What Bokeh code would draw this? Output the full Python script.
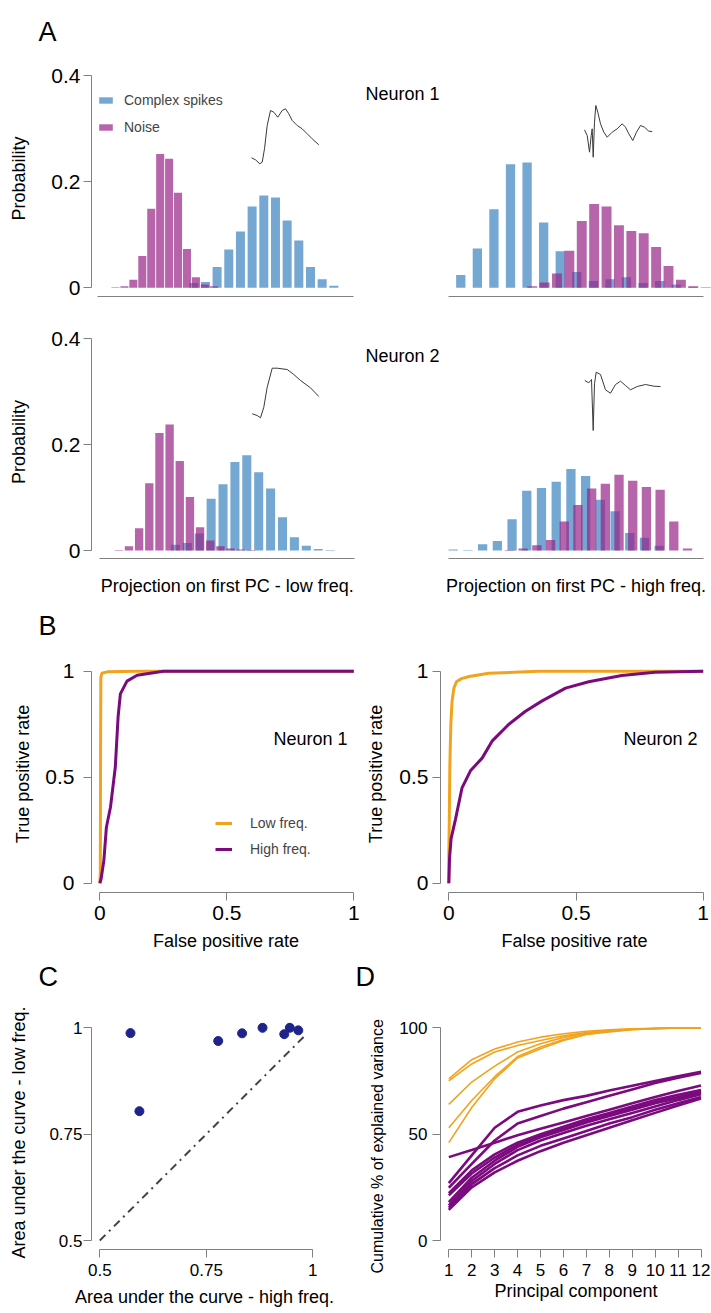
import math
from bokeh.plotting import figure
from bokeh.models import (Range1d, FixedTicker, CustomJSTickFormatter, Label,
                          Legend, LegendItem, Title)
from bokeh.layouts import column, row
from bokeh.embed import file_html
from bokeh.resources import INLINE

# ======================= DATA =======================
# Panel A: histograms (probability per bin). Bins: (first bin centre, bin width)
# in projection units (the drawn axis spans 0..1).
n1_low_cs_bins = (0.376, 0.0456)
n1_low_cs = [0.009, 0.011, 0.039, 0.072, 0.106, 0.153, 0.174, 0.170, 0.127, 0.089, 0.039, 0.016, 0.004]
n1_low_noise_bins = (0.0703, 0.0349)
n1_low_noise = [0.001, 0.003, 0.015, 0.060, 0.149, 0.252, 0.243, 0.179, 0.073, 0.020, 0.006, 0.003]

n1_high_cs_bins = (0.047, 0.065)
n1_high_cs = [0.024, 0.074, 0.148, 0.233, 0.236, 0.123, 0.069, 0.030, 0.013, 0.016, 0.020, 0.009, 0.013, 0.006, 0.002]
n1_high_noise_bins = (0.327, 0.0486)
n1_high_noise = [0.003, 0.010, 0.027, 0.070, 0.126, 0.158, 0.153, 0.118, 0.107, 0.103, 0.077, 0.041, 0.015, 0.003, 0.001]

n2_low_cs_bins = (0.297, 0.0467)
n2_low_cs = [0.011, 0.014, 0.032, 0.098, 0.125, 0.167, 0.180, 0.148, 0.117, 0.063, 0.025, 0.009, 0.003, 0.001]
n2_low_noise_bins = (0.0746, 0.0399)
n2_low_noise = [0.001, 0.008, 0.042, 0.127, 0.222, 0.238, 0.169, 0.101, 0.044, 0.019, 0.008, 0.004, 0.002, 0.001]

n2_high_cs_bins = (0.0173, 0.0577)
n2_high_cs = [0.002, 0.001, 0.012, 0.018, 0.059, 0.113, 0.118, 0.130, 0.154, 0.141, 0.096, 0.074, 0.033, 0.024, 0.009]
n2_high_noise_bins = (0.238, 0.0537)
n2_high_noise = [0.001, 0.004, 0.010, 0.020, 0.055, 0.086, 0.117, 0.126, 0.143, 0.132, 0.120, 0.115, 0.055, 0.004]

# Mean complex-spike waveforms (time in samples, amplitude in arbitrary units)
wf_n1_low_t = [0, 4, 8.3, 10.7, 13, 15.7, 19, 22.3, 26.3, 30.7, 34, 37.3, 40.7, 45.7, 50.7, 55.7, 60.7, 67.3]
wf_n1_low_v = [6, 4, 0, 1.6, 15, 38.3, 53.3, 51.6, 46.6, 53.3, 55, 50, 43.3, 38.3, 35, 30, 25, 19]
wf_n1_high_t = [0, 2.7, 5, 6.7, 7.7, 8.7, 10, 11.3, 13.3, 16, 19.3, 22.7, 27.7, 32.7, 37.7, 41, 44.3, 48.3, 52, 56, 60, 64.3, 67.7]
wf_n1_high_v = [27.4, 21.7, 5, 21.7, 28.4, 0, 35, 51.7, 45, 33.4, 25, 20, 25, 28.4, 33.4, 30, 23.4, 16.7, 25, 31.7, 30, 26, 25.7]
wf_n2_low_t = [0, 5, 8.3, 11.6, 15, 20, 25, 35, 41.6, 48.3, 58.3, 66.6]
wf_n2_low_v = [4, 2.3, 0, 10.6, 30.6, 49.6, 49.6, 48.3, 43.3, 37.3, 30, 21.3]
wf_n2_high_t = [0, 4, 5.7, 6.7, 8.4, 9.7, 11.4, 15.7, 20.7, 25.7, 30.7, 35.7, 40.7, 45.7, 52.4, 60.7, 69, 75.7]
wf_n2_high_v = [50, 47.7, 50, 51, 0, 46.7, 58.3, 56, 40.7, 37.3, 46, 49.3, 45, 40.7, 44, 46, 44.3, 44]

# Panel B: ROC curves
roc_n1_low_fpr = [0, 0.002, 0.003, 0.004, 0.008, 0.03, 0.15, 1.0]
roc_n1_low_tpr = [0, 0.05, 0.60, 0.97, 0.99, 0.997, 1.0, 1.0]
roc_n1_high_fpr = [0, 0.005, 0.016, 0.026, 0.042, 0.061, 0.072, 0.081, 0.107, 0.147, 0.25, 1.0]
roc_n1_high_tpr = [0, 0.02, 0.107, 0.264, 0.358, 0.547, 0.783, 0.893, 0.953, 0.981, 1.0, 1.0]
roc_n2_low_fpr = [0, 0.0, 0.002, 0.004, 0.008, 0.013, 0.02, 0.03, 0.05, 0.08, 0.157, 0.354, 0.7, 1.0]
roc_n2_low_tpr = [0, 0.13, 0.30, 0.55, 0.75, 0.86, 0.92, 0.95, 0.965, 0.975, 0.99, 1.0, 1.0, 1.0]
roc_n2_high_fpr = [0, 0.003, 0.009, 0.026, 0.052, 0.085, 0.131, 0.17, 0.236, 0.30, 0.367, 0.459, 0.55, 0.68, 0.81, 1.0]
roc_n2_high_tpr = [0, 0.12, 0.21, 0.30, 0.45, 0.53, 0.59, 0.67, 0.75, 0.81, 0.86, 0.92, 0.95, 0.98, 0.995, 1.0]

# Panel C: area under the ROC curve per neuron
auc_high = [0.572, 0.593, 0.778, 0.834, 0.882, 0.933, 0.946, 0.966]
auc_low = [0.9875, 0.804, 0.969, 0.987, 1.0, 0.985, 1.0, 0.994]
identity = [0.5, 0.985]

# Panel D: cumulative % of explained variance
pcs = list(range(1, 13))
cumvar_low = [
    [76, 85, 90, 93.3, 95.6, 97.2, 98.4, 99.1, 99.5, 99.8, 99.9, 100],
    [75, 83, 88.6, 91.7, 94, 96.3, 97.8, 98.8, 99.4, 99.7, 99.9, 100],
    [64, 74.5, 82, 88.6, 92.5, 95.5, 97.5, 98.6, 99.3, 99.7, 99.9, 100],
    [53, 65.8, 77, 86.5, 91, 94.5, 97, 98.3, 99.2, 99.6, 99.9, 100],
    [46, 62.5, 76, 85.8, 90.2, 94, 96.9, 98, 99.1, 99.6, 99.9, 100],
]
cumvar_high = [
    [27, 40, 53, 60.5, 63.5, 66, 68, 70.5, 72.8, 75, 77.2, 79.3],
    [24.8, 36, 47, 55, 58.5, 62, 65, 68, 71, 74, 76.5, 78.8],
    [39.2, 42.5, 46, 49.5, 52.5, 55.5, 58.5, 61.5, 64.5, 67.5, 70.3, 72.9],
    [22.3, 33, 40.5, 46, 50, 53.5, 57, 60, 63, 66, 68.5, 70.8],
    [21.2, 31.5, 39, 45, 49, 52.5, 56, 59, 62, 65, 67.5, 70],
    [18, 29.5, 37.5, 44, 48.5, 52, 55.5, 58.5, 61.5, 64.5, 67, 69.5],
    [16.5, 28, 36, 42.5, 47, 50.5, 54, 57, 60, 63, 66, 68.8],
    [15.4, 26.5, 34, 40, 44.5, 48, 51.5, 55, 58, 61.5, 64.5, 67.5],
    [14.4, 25, 32, 37.5, 42, 46, 49.5, 53, 56.5, 60, 63.5, 66.8],
]

# ======================= STYLE =======================
FONT = "Liberation Sans"
GRAY = "#808080"
BLUE = "#74a7d2"
PINK = "#982387"
PINK_ALPHA = 0.7
ORANGE = "#f2a31c"
PURPLE = "#7a0a7e"
NAVY = "#1f248c"
PAGE_W = 711


def lin(pa, a, pb, b):
    return lambda px: a + (px - pa) * (b - a) / (pb - pa)


def make_fig(box, frame, mx, my, yaxis=True):
    x0, y0, x1, y1 = box
    l, t, r, b = frame
    p = figure(width=int(x1 - x0), height=int(y1 - y0), title=None,
               x_range=Range1d(mx(l), mx(r)), y_range=Range1d(my(b), my(t)),
               min_border_left=int(l - x0), min_border_right=int(x1 - r),
               min_border_top=int(t - y0), min_border_bottom=int(y1 - b),
               output_backend="svg", toolbar_location=None,
               y_axis_location="left" if yaxis else None)
    p.outline_line_color = None
    p.xgrid.visible = False
    p.ygrid.visible = False
    p.background_fill_color = "white"
    p.border_fill_color = "white"
    return p


def make_strip(x0, x1, y0, y1):
    # text-only strip; x data = page x, y data = distance above the strip's bottom
    p = figure(width=int(x1 - x0), height=int(y1 - y0), title=None,
               x_range=Range1d(x0, x1), y_range=Range1d(0, y1 - y0),
               min_border=0, output_backend="svg", toolbar_location=None,
               x_axis_location=None, y_axis_location=None)
    p.outline_line_color = None
    p.xgrid.visible = False
    p.ygrid.visible = False
    return p, (lambda py: y1 - py)


def style_axis(ax, ticks=(), font_size="21px", tick_out=8, standoff=4, bounds=None,
               label=None, label_standoff=10, label_size="18px"):
    ax.ticker = FixedTicker(ticks=list(ticks))
    ax.formatter = CustomJSTickFormatter(code="return tick.toString();")
    ax.axis_line_color = GRAY
    ax.axis_line_width = 1
    ax.major_tick_line_color = GRAY
    ax.major_tick_out = tick_out if ticks else 0
    ax.major_tick_in = 0
    ax.minor_tick_line_color = None
    ax.major_label_standoff = standoff if ticks else 0
    ax.major_label_text_font = FONT
    ax.major_label_text_font_size = font_size
    ax.major_label_text_color = "black"
    if bounds is not None:
        ax.bounds = bounds
    if label:
        ax.axis_label = label
        ax.axis_label_text_font = FONT
        ax.axis_label_text_font_size = label_size
        ax.axis_label_text_font_style = "normal"
        ax.axis_label_text_color = "black"
        ax.axis_label_standoff = label_standoff


def draw_hist(p, bins, probs, frac, color, alpha):
    start, step = bins
    xs = [start + i * step for i in range(len(probs))]
    return p.vbar(x=xs, top=probs, bottom=0, width=step * frac,
                  fill_color=color, fill_alpha=alpha, line_color=None)


def draw_wave(p, mx, my, origin, t, v):
    x0, y0 = origin
    p.line([mx(x0 + ti) for ti in t], [my(y0 - vi) for vi in v],
           line_color="#3a3a3a", line_width=1)


def add_text(p, x, y, s, size, align="left", baseline="middle", angle=0.0):
    p.add_layout(Label(x=x, y=y, text=s, text_font=FONT, text_font_size=size,
                       text_align=align, text_baseline=baseline, angle=angle,
                       text_color="black"))


# ======================= strip with panel letter A =======================
s0, sy = make_strip(0, PAGE_W, 0, 56)
add_text(s0, 38, sy(31), "A", "27px")

# ======================= PANEL A, row 1 =======================
mx = lin(97, 0, 353, 1)
my = lin(287.3, 0, 75, 0.4)
pA1L = make_fig((0, 56, 362, 302), (91, 60, 362, 296), mx, my)
style_axis(pA1L.yaxis[0], [0, 0.2, 0.4], "21px", 8, 3, (0, 0.4), "Probability", 19)
style_axis(pA1L.xaxis[0], bounds=(0, 1))
rb = draw_hist(pA1L, n1_low_cs_bins, n1_low_cs, 0.77, BLUE, 1.0)
rp = draw_hist(pA1L, n1_low_noise_bins, n1_low_noise, 0.9, PINK, PINK_ALPHA)
draw_wave(pA1L, mx, my, (251, 163.3), wf_n1_low_t, wf_n1_low_v)
legA = Legend(items=[LegendItem(label="Complex spikes", renderers=[rb]),
                     LegendItem(label="Noise", renderers=[rp])],
              location=(6, 161), glyph_width=17, glyph_height=8, label_height=16,
              spacing=11, padding=0, margin=0, label_standoff=10,
              label_text_font=FONT, label_text_font_size="14px",
              border_line_color=None, background_fill_alpha=0)
pA1L.add_layout(legA)

mx = lin(448.3, 0, 703.3, 1)
pA1R = make_fig((362, 56, 711, 302), (362, 60, 711, 296), mx, my, yaxis=False)
style_axis(pA1R.xaxis[0], bounds=(0, 1))
draw_hist(pA1R, n1_high_cs_bins, n1_high_cs, 0.56, BLUE, 1.0)
draw_hist(pA1R, n1_high_noise_bins, n1_high_noise, 0.8, PINK, PINK_ALPHA)
draw_wave(pA1R, mx, my, (584, 156.7), wf_n1_high_t, wf_n1_high_v)
add_text(pA1R, mx(365), my(93.3), "Neuron 1", "18px")

# ======================= PANEL A, row 2 =======================
mx = lin(99.3, 0, 354, 1)
my = lin(550, 0, 338.3, 0.4)
pA2L = make_fig((0, 302, 362, 562), (91, 325, 362, 558), mx, my)
style_axis(pA2L.yaxis[0], [0, 0.2, 0.4], "21px", 8, 3, (0, 0.4), "Probability", 19)
style_axis(pA2L.xaxis[0], bounds=(0, 1))
draw_hist(pA2L, n2_low_cs_bins, n2_low_cs, 0.76, BLUE, 1.0)
draw_hist(pA2L, n2_low_noise_bins, n2_low_noise, 0.82, PINK, PINK_ALPHA)
draw_wave(pA2L, mx, my, (251.7, 417.3), wf_n2_low_t, wf_n2_low_v)

mx = lin(448.3, 0, 703.3, 1)
pA2R = make_fig((362, 302, 711, 562), (362, 325, 711, 558), mx, my, yaxis=False)
style_axis(pA2R.xaxis[0], bounds=(0, 1))
draw_hist(pA2R, n2_high_cs_bins, n2_high_cs, 0.63, BLUE, 1.0)
draw_hist(pA2R, n2_high_noise_bins, n2_high_noise, 0.68, PINK, PINK_ALPHA)
draw_wave(pA2R, mx, my, (584.3, 430), wf_n2_high_t, wf_n2_high_v)
add_text(pA2R, mx(365), my(355), "Neuron 2", "18px")

# ======================= strip: A x-titles + letter B =======================
s1, sy = make_strip(0, PAGE_W, 562, 652)
add_text(s1, 226.7, sy(585), "Projection on first PC - low freq.", "18px", align="center")
add_text(s1, 575.5, sy(585), "Projection on first PC - high freq.", "18px", align="center")
add_text(s1, 38, sy(625), "B", "27px")

# ======================= PANEL B =======================
mx = lin(99.3, 0, 353.3, 1)
my = lin(882.7, 0, 670.7, 1)
pBL = make_fig((0, 652, 362, 958), (91, 655, 360, 892), mx, my)
style_axis(pBL.yaxis[0], [0, 0.5, 1], "21px", 8, 9, (0, 1), "True positive rate", 9)
style_axis(pBL.xaxis[0], [0, 0.5, 1], "21px", 8, 5, (0, 1), "False positive rate", 8)
ro = pBL.line(roc_n1_low_fpr, roc_n1_low_tpr, line_color=ORANGE, line_width=3)
rpu = pBL.line(roc_n1_high_fpr, roc_n1_high_tpr, line_color=PURPLE, line_width=3)
legB = Legend(items=[LegendItem(label="Low freq.", renderers=[ro]),
                     LegendItem(label="High freq.", renderers=[rpu])],
              location=(124, 35), glyph_width=17, glyph_height=16, label_height=16,
              spacing=10, padding=0, margin=0, label_standoff=18,
              label_text_font=FONT, label_text_font_size="14px",
              border_line_color=None, background_fill_alpha=0)
pBL.add_layout(legB)
add_text(pBL, mx(347), my(738), "Neuron 1", "18px", align="right")

mx = lin(448.3, 0, 702.7, 1)
pBR = make_fig((362, 652, 711, 958), (440, 655, 708, 892), mx, my)
style_axis(pBR.yaxis[0], [0, 0.5, 1], "21px", 8, 4, (0, 1), "True positive rate", 10)
style_axis(pBR.xaxis[0], [0, 0.5, 1], "21px", 8, 5, (0, 1), "False positive rate", 8)
pBR.line(roc_n2_low_fpr, roc_n2_low_tpr, line_color=ORANGE, line_width=3)
pBR.line(roc_n2_high_fpr, roc_n2_high_tpr, line_color=PURPLE, line_width=3)
add_text(pBR, mx(697), my(738), "Neuron 2", "18px", align="right")

# ======================= strip: letters C and D =======================
s2, sy = make_strip(0, PAGE_W, 958, 1000)
add_text(s2, 38, sy(976.5), "C", "27px")
add_text(s2, 355, sy(976.5), "D", "27px")

# ======================= PANEL C =======================
mx = lin(99.3, 0.5, 312.3, 1)
my = lin(1240, 0.5, 1027.3, 1)
pC = make_fig((0, 1000, 350, 1313), (91, 1015, 317, 1249), mx, my)
style_axis(pC.yaxis[0], [0.5, 0.75, 1], "17px", 8, 1, (0.5, 1), "Area under the curve - low freq.", 17)
style_axis(pC.xaxis[0], [0.5, 0.75, 1], "17px", 8, 6, (0.5, 1), "Area under the curve - high freq.", 8)
pC.line(identity, identity, line_color="#444444", line_width=2, line_dash="8 5 2 5")
pC.scatter(auc_high, auc_low, size=9, fill_color=NAVY, line_color=NAVY)

# ======================= PANEL D =======================
mx = lin(448.3, 1, 700.5, 12)
my = lin(1240, 0, 1027.3, 100)
pD = make_fig((350, 1000, 711, 1313), (440, 1015, 711, 1249), mx, my)
style_axis(pD.yaxis[0], [0, 50, 100], "17px", 8, 5, (0, 100))
style_axis(pD.xaxis[0], pcs, "17px", 8, 6, (1, 12), "Principal component", 2)
# y title sits lower than the frame centre in the original: left-side title, offset downwards
pD.add_layout(Title(text="Cumulative % of explained variance", align="left", offset=-24,
                    standoff=20, vertical_align="middle", text_font=FONT,
                    text_font_size="16px", text_font_style="normal",
                    text_color="black"), "left")
for vals in cumvar_low:
    pD.line(pcs, vals, line_color=ORANGE, line_width=1.6)
for vals in cumvar_high:
    pD.line(pcs, vals, line_color=PURPLE, line_width=2.6)

layout = column(s0, row(pA1L, pA1R), row(pA2L, pA2R), s1, row(pBL, pBR), s2,
                row(pC, pD))
open("out.html", "w").write(file_html(layout, INLINE))
